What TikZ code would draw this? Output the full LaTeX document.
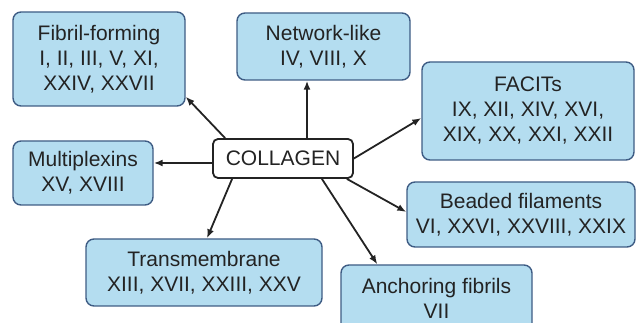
\documentclass[tikz,border=0pt]{standalone}
\usepackage{xcolor}
\usepackage{tikz}
\usepackage{fontspec}
\setmainfont{Liberation Sans}
\usetikzlibrary{positioning,arrows.meta,calc}
\definecolor{ink}{RGB}{35,35,35}
\definecolor{boxline}{RGB}{62,92,132}
\definecolor{boxfill}{RGB}{180,221,240}

\begin{document}
\begin{tikzpicture}[x=1pt,y=1pt,
  every node/.style={font=\fontsize{21}{25}\selectfont,text=ink},
  family/.style={draw=boxline,line width=1.4pt,rounded corners=8pt,fill=boxfill,align=center,inner sep=0pt},
  hub/.style={draw=ink,line width=1.8pt,rounded corners=5pt,fill=white,minimum width=140pt,minimum height=39pt,inner sep=0pt},
  arrow/.style={-{Latex[length=9pt,width=7pt]},line width=1.8pt,draw=ink}
]
\useasboundingbox (0,0) rectangle (636,323);
\begin{scope}
\clip (0,0) rectangle (636,323);
\node[hub] (col) at (283,164.5) {COLLAGEN};
\node[family,minimum width=172pt,minimum height=94pt] (fib) at (99,264) {Fibril-forming\\I, II, III, V, XI,\\XXIV, XXVII};
\node[family,minimum width=173pt,minimum height=67pt] (net) at (323.5,276.5) {Network-like\\IV, VIII, X};
\node[family,minimum width=212pt,minimum height=98pt] (fac) at (528,212) {FACITs\\IX, XII, XIV, XVI,\\XIX, XX, XXI, XXII};
\node[family,minimum width=140pt,minimum height=64pt] (mul) at (83,150) {Multiplexins\\XV, XVIII};
\node[family,minimum width=236pt,minimum height=67pt] (tra) at (204,50.5) {Transmembrane\\XIII, XVII, XXIII, XXV};
\node[family,minimum width=228pt,minimum height=65pt] (bea) at (521,108.5) {Beaded filaments\\VI, XXVI, XXVIII, XXIX};
\node[family,minimum width=191pt,minimum height=67pt] (anc) at (436.5,24.5) {Anchoring fibrils\\VII};
\end{scope}
% arrows out of the hub
\draw[arrow] ([xshift=13pt]col.north west) -- ([yshift=10pt]fib.south east);
\draw[arrow] ([xshift=24pt]col.north) -- ([xshift=24pt]col.north |- net.south);
\draw[arrow] (col.east) -- ([yshift=-7pt]fac.west);
\draw[arrow] ([yshift=-4.5pt]col.west) -- ([yshift=-4.5pt]col.west -| mul.east);
\draw[arrow] ([xshift=20pt]col.south west) -- ([xshift=3pt]tra.north);
\draw[arrow] ([xshift=-7pt]col.south east) -- ([yshift=2.5pt]bea.west);
\draw[arrow] ([xshift=-32pt]col.south east) -- ([xshift=37pt]anc.north west);
\end{tikzpicture}
\end{document}
